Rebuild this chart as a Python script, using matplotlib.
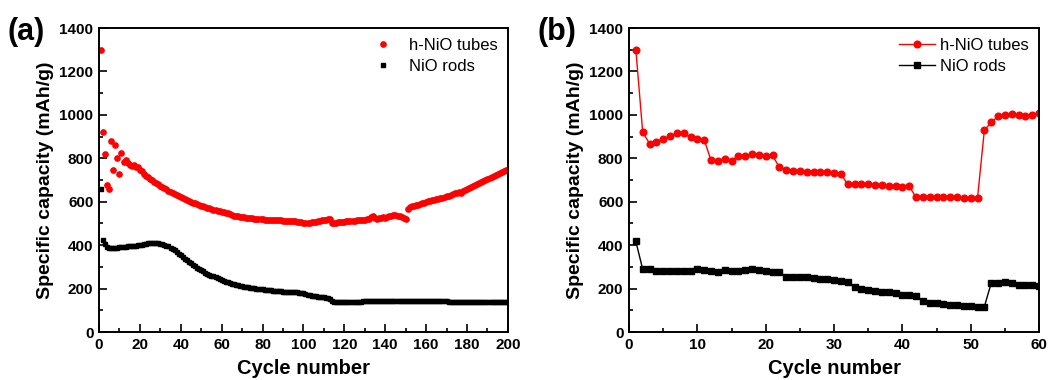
import matplotlib
matplotlib.use("Agg")
import matplotlib.pyplot as plt
import numpy as np
from matplotlib.ticker import MultipleLocator

plt.rcParams['font.family'] = ['Liberation Sans', 'DejaVu Sans']

# panel (a): long cycling, 200 cycles
tubes_a = [
    1300, 920, 822, 677, 658, 878, 746, 862, 802, 726,
    825, 785, 790, 778, 770, 765, 768, 758, 760, 748,
    742, 728, 720, 712, 705, 698, 692, 686, 680, 674,
    668, 662, 657, 651, 646, 640, 635, 630, 625, 620,
    615, 611, 607, 603, 599, 596, 592, 588, 585, 581,
    578, 575, 572, 569, 566, 563, 561, 558, 556, 553,
    551, 548, 546, 544, 540, 535, 533, 533, 531, 529,
    528, 527, 525, 524, 523, 522, 521, 520, 520, 519,
    518, 518, 517, 516, 516, 515, 515, 514, 514, 513,
    513, 512, 512, 511, 510, 509, 508, 506, 505, 504,
    504, 503, 504, 505, 506, 508, 510, 512, 514, 515,
    518, 520, 522, 503, 502, 504, 505, 506, 507, 508,
    509, 510, 511, 512, 513, 514, 515, 516, 517, 518,
    520, 522, 530, 534, 526, 522, 524, 526, 528, 527,
    530, 533, 535, 538, 540, 536, 532, 530, 526, 520,
    568, 574, 578, 581, 584, 587, 590, 592, 595, 599,
    602, 605, 607, 609, 612, 614, 617, 619, 622, 625,
    628, 631, 634, 638, 641, 644, 640, 648, 652, 660,
    664, 668, 672, 676, 680, 684, 689, 694, 699, 706,
    711, 716, 720, 725, 729, 733, 737, 740, 744, 748,
]
rods_a = [
    660, 422, 407, 392, 388, 386, 385, 386, 388, 390,
    391, 392, 393, 394, 395, 396, 397, 398, 399, 400,
    402, 404, 406, 408, 410, 410, 410, 409, 408, 407,
    405, 402, 398, 394, 389, 383, 376, 368, 361, 353,
    345, 338, 330, 323, 316, 309, 302, 296, 290, 284,
    279, 274, 269, 264, 260, 256, 252, 247, 243, 239,
    235, 231, 228, 225, 222, 219, 217, 215, 213, 211,
    209, 207, 206, 204, 203, 201, 200, 199, 197, 196,
    195, 194, 193, 192, 191, 190, 189, 188, 187, 186,
    185, 185, 184, 184, 183, 183, 182, 181, 180, 179,
    176, 172, 169, 167, 166, 165, 163, 162, 161, 160,
    158, 156, 154, 141, 140, 140, 139, 139, 139, 139,
    139, 139, 139, 139, 140, 140, 140, 140, 141, 143,
    143, 143, 143, 143, 143, 143, 143, 143, 143, 143,
    143, 143, 143, 143, 142, 142, 142, 142, 142, 142,
    142, 142, 142, 142, 142, 142, 142, 142, 142, 142,
    142, 142, 141, 141, 141, 141, 141, 141, 141, 141,
    140, 140, 140, 140, 140, 140, 140, 140, 140, 140,
    139, 139, 139, 139, 139, 139, 139, 139, 139, 139,
    139, 139, 139, 139, 139, 139, 139, 139, 139, 139,
]

# panel (b): rate test, 60 cycles
tubes_b = [
    1300, 920, 868, 877, 888, 902, 915, 915, 896, 888,
    885, 790, 787, 799, 789, 810, 812, 818, 815, 810,
    813, 758, 748, 743, 742, 739, 739, 737, 736, 734,
    728, 680, 680, 680, 680, 678, 676, 673, 672, 670,
    672, 620, 620, 620, 620, 620, 620, 620, 619, 618,
    618, 930, 965, 993, 1000, 1002, 1000, 997, 998, 1010,
]
rods_b = [
    417, 289, 289, 283, 280, 280, 280, 280, 281, 288,
    285, 283, 278, 286, 283, 281, 285, 288, 285, 281,
    278, 277, 255, 255, 255, 252, 249, 246, 243, 238,
    234, 228, 206, 200, 194, 189, 185, 182, 178, 172,
    169, 165, 142, 135, 132, 129, 126, 123, 122, 118,
    117, 117, 225, 225, 228, 226, 218, 217, 215, 211,
]

cycles_a = np.arange(1, len(tubes_a) + 1)
cycles_b = np.arange(1, len(tubes_b) + 1)


def style_axes(ax, xmax, xmajor, xminor):
    ax.set_xlim(0, xmax)
    ax.set_ylim(0, 1400)
    ax.xaxis.set_major_locator(MultipleLocator(xmajor))
    ax.xaxis.set_minor_locator(MultipleLocator(xminor))
    ax.yaxis.set_major_locator(MultipleLocator(200))
    ax.yaxis.set_minor_locator(MultipleLocator(100))
    ax.tick_params(which='both', direction='in', top=False, right=False,
                   width=1.2, labelsize=11)
    ax.tick_params(which='major', length=6, pad=4)
    ax.tick_params(which='minor', length=3)
    for lab in ax.get_xticklabels() + ax.get_yticklabels():
        lab.set_fontweight('bold')
    for sp in ax.spines.values():
        sp.set_linewidth(1.4)
    ax.set_xlabel("Cycle number", fontsize=14.5, fontweight='bold', labelpad=5)
    ax.set_ylabel("Specific capacity (mAh/g)", fontsize=14, fontweight='bold', labelpad=4)


fig = plt.figure(figsize=(10.54, 3.8), dpi=100)

ax1 = fig.add_axes([0.0939, 0.1263, 0.388, 0.80])
ax1.plot(cycles_a, tubes_a, 'o', color='#ff0000', ms=3.8, mec='#ff0000', label='h-NiO tubes')
ax1.plot(cycles_a, rods_a, 's', color='black', ms=3.3, label='NiO rods')
style_axes(ax1, 200, 20, 10)
ax1.legend(loc='upper right', frameon=False, fontsize=12, handletextpad=0.6,
           borderaxespad=0.2, labelspacing=0.35)
fig.text(0.007, 0.895, "(a)", fontsize=22, fontweight='bold')

ax2 = fig.add_axes([0.5968, 0.1263, 0.389, 0.80])
ax2.plot(cycles_b, tubes_b, '-o', color='#ff0000', lw=1, ms=4.8, label='h-NiO tubes')
ax2.plot(cycles_b, rods_b, '-s', color='black', lw=1, ms=4.2, label='NiO rods')
style_axes(ax2, 60, 10, 5)
ax2.legend(loc='upper right', frameon=False, fontsize=12, handletextpad=0.3,
           borderaxespad=0.2, labelspacing=0.35, handlelength=2.2)
fig.text(0.510, 0.895, "(b)", fontsize=22, fontweight='bold')

fig.savefig("out.png", dpi=100)
